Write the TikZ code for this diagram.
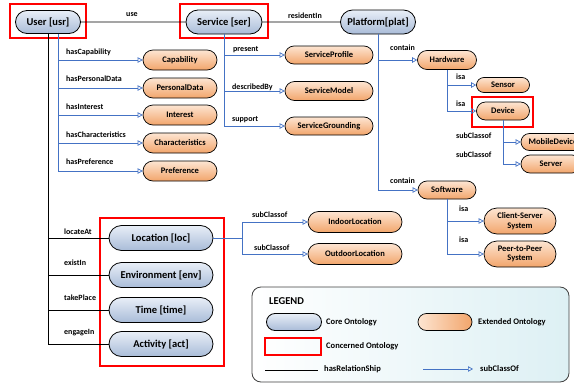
\documentclass[tikz,border=0pt]{standalone}
\usepackage{fontspec}
\setmainfont{Carlito}
\usetikzlibrary{shapes.misc,arrows.meta}
\definecolor{subblue}{HTML}{4472C4}
\definecolor{coretop}{HTML}{E8EEF7}
\definecolor{corebot}{HTML}{A9BCD8}
\definecolor{exttop}{HTML}{FDE5D2}
\definecolor{extbot}{HTML}{F2A56B}
\definecolor{legbg}{HTML}{DDF0F4}
\tikzset{
  core/.style={rounded rectangle, draw=black, line width=0.8pt, top color=coretop, bottom color=corebot,
    font=\fontsize{10.5}{12}\selectfont\bfseries, inner sep=1pt},
  ext/.style={rounded rectangle, draw=black, line width=0.7pt, top color=exttop, bottom color=extbot,
    font=\fontsize{8.5}{9.5}\selectfont\bfseries, inner sep=1pt, align=center},
  sz/.style 2 args={minimum width=#1pt, minimum height=#2pt},
  lbl/.style={font=\fontsize{8}{9}\selectfont\bfseries, inner sep=0pt, anchor=west},
  sub/.style={draw=subblue, line width=0.7pt, -{Triangle[open, length=5pt, width=5.5pt]}},
  rel/.style={draw=black, line width=0.7pt},
  concerned/.style={draw=red, line width=1.6pt},
  legtxt/.style={font=\fontsize{8.5}{10}\selectfont\bfseries, inner sep=0pt, anchor=west}
}
\begin{document}
\begin{tikzpicture}[x=1pt,y=-1pt]
\useasboundingbox (0,0) rectangle (574,383);
\clip (0,0) rectangle (574,383);

% core nodes
\node[core, sz={67}{23}] (usr) at (48,22) {User [usr]};
\node[core, sz={78}{24}] (ser) at (224,22) {Service [ser]};
\node[core, sz={77}{24}] (plat) at (378,22) {Platform[plat]};
\node[core, sz={106}{25}] (loc) at (161,238) {Location [loc]};
\node[core, sz={106}{25}] (env) at (161,275) {Environment [env]};
\node[core, sz={106}{25}] (time) at (161,310) {Time [time]};
\node[core, sz={106}{25}] (act) at (161,344) {Activity [act]};

% extended nodes - user
\node[ext, sz={76}{20}] (cap) at (180,60) {Capability};
\node[ext, sz={76}{20}] (pd) at (180,88) {PersonalData};
\node[ext, sz={76}{20}] (int) at (180,115) {Interest};
\node[ext, sz={76}{20}] (chr) at (180,143) {Characteristics};
\node[ext, sz={76}{20}] (pref) at (180,171) {Preference};
% service
\node[ext, sz={90}{18}] (sp) at (329,55) {ServiceProfile};
\node[ext, sz={90}{19}] (sm) at (329,91) {ServiceModel};
\node[ext, sz={90}{18}] (sg) at (329,126) {ServiceGrounding};
% platform
\node[ext, sz={61}{19}] (hw) at (447,60) {Hardware};
\node[ext, sz={55}{15}] (sen) at (503,85) {Sensor};
\node[ext, sz={55}{18}] (dev) at (503,111) {Device};
\node[ext, sz={66}{17}] (mob) at (553,142) {MobileDevice};
\node[ext, sz={62}{18}] (srv) at (551,164) {Server};
\node[ext, sz={60}{18}] (sw) at (447,190) {Software};
\node[ext, sz={74}{26}] (cs) at (520,221) {Client-Server\\System};
\node[ext, sz={74}{26}] (p2p) at (520,254) {Peer-to-Peer\\System};
% location
\node[ext, sz={96}{21}] (in) at (355,222) {IndoorLocation};
\node[ext, sz={96}{21}] (out) at (355,254) {OutdoorLocation};

% concerned boxes
\draw[concerned] (10,4) rectangle (86,38);
\draw[concerned] (180,4) rectangle (268,38);
\draw[concerned] (472,97) rectangle (533,127);
\draw[concerned] (100,218) rectangle (224,366);

% relations
\draw[rel] (usr) -- (ser);
\node[lbl, anchor=center] (luse) at (132,15) {use};
\draw[rel] (ser) -- (plat);
\node[lbl, anchor=center] (lres) at (305,16) {residentIn};
\draw[rel] (usr.south) |- (loc.west);
\draw[rel] (usr.south) |- (env.west);
\draw[rel] (usr.south) |- (time.west);
\draw[rel] (usr.south) |- (act.west);
\node[lbl] (lloc) at (64,232) {locateAt};
\node[lbl] (lenv) at (64,263) {existIn};
\node[lbl] (ltime) at (64,298) {takePlace};
\node[lbl] (lact) at (64,333) {engageIn};

% user links
\draw[sub] ([xshift=10pt]usr.south) |- (cap.west);
\draw[sub] ([xshift=10pt]usr.south) |- (pd.west);
\draw[sub] ([xshift=10pt]usr.south) |- (int.west);
\draw[sub] ([xshift=10pt]usr.south) |- (chr.west);
\draw[sub] ([xshift=10pt]usr.south) |- (pref.west);
\node[lbl] (lcap) at (66,52) {hasCapability};
\node[lbl] (lpd) at (66,79) {hasPersonalData};
\node[lbl] (lint) at (66,107) {hasInterest};
\node[lbl] (lchr) at (66,135) {hasCharacteristics};
\node[lbl] (lpref) at (66,162) {hasPreference};

% service links
\draw[sub] (ser.south) |- (sp.west);
\draw[sub] (ser.south) |- (sm.west);
\draw[sub] (ser.south) |- (sg.west);
\node[lbl] (lsp) at (233,50) {present};
\node[lbl] (lsm) at (232,87) {describedBy};
\node[lbl] (lsg) at (232,120) {support};

% platform links
\draw[sub] (plat.south) |- (hw.west);
\draw[sub] (plat.south) |- (sw.west);
\node[lbl] (lhw) at (390,48) {contain};
\node[lbl] (lsw) at (390,181) {contain};
\draw[sub] (hw.south) |- (sen.west);
\draw[sub] (hw.south) |- (dev.west);
\node[lbl] (lsen) at (456,77) {isa};
\node[lbl] (ldev) at (456,104) {isa};
\draw[sub] (dev.south) |- (mob.west);
\draw[sub] (dev.south) |- (srv.west);
\node[lbl] (lmob) at (456,136) {subClassof};
\node[lbl] (lsrv) at (456,155) {subClassof};
\draw[sub] (sw.south) |- (cs.west);
\draw[sub] (sw.south) |- (p2p.west);
\node[lbl] (lcs) at (459,209) {isa};
\node[lbl] (lp2p) at (459,240) {isa};

% location links
\coordinate (lb) at (242,238);
\draw[sub] (loc.east) -- (lb) |- (in.west);
\draw[sub] (loc.east) -- (lb) |- (out.west);
\node[lbl] (lin) at (252,215) {subClassof};
\node[lbl] (lout) at (254,248) {subClassof};

% legend
\draw[draw=black!75, line width=0.8pt, rounded corners=9pt, left color=white, right color=legbg] (252,287) rectangle (569,382);
\node[font=\fontsize{10.5}{12}\selectfont\bfseries, inner sep=0pt, anchor=west] (legt) at (269,301) {LEGEND};
\node[core, sz={57}{17}] (lgcore) at (294,322) {};
\node[legtxt] (lgcoret) at (326,322) {Core Ontology};
\node[ext, sz={56}{17}, left color=exttop, right color=extbot] (lgext) at (445,322) {};
\node[legtxt] (lgextt) at (478,322) {Extended Ontology};
\draw[concerned] (265,338) rectangle (321,355);
\node[legtxt] (lgcon) at (326,346) {Concerned Ontology};
\coordinate (r1) at (265,370);
\coordinate (r2) at (318,370);
\draw[rel] (r1) -- (r2);
\node[legtxt] (lgrel) at (324,369) {hasRelationShip};
\coordinate (s1) at (423,369);
\coordinate (s2) at (473,369);
\draw[sub] (s1) -- (s2);
\node[legtxt] (lgsub) at (480,369) {subClassOf};
\end{tikzpicture}
\end{document}
